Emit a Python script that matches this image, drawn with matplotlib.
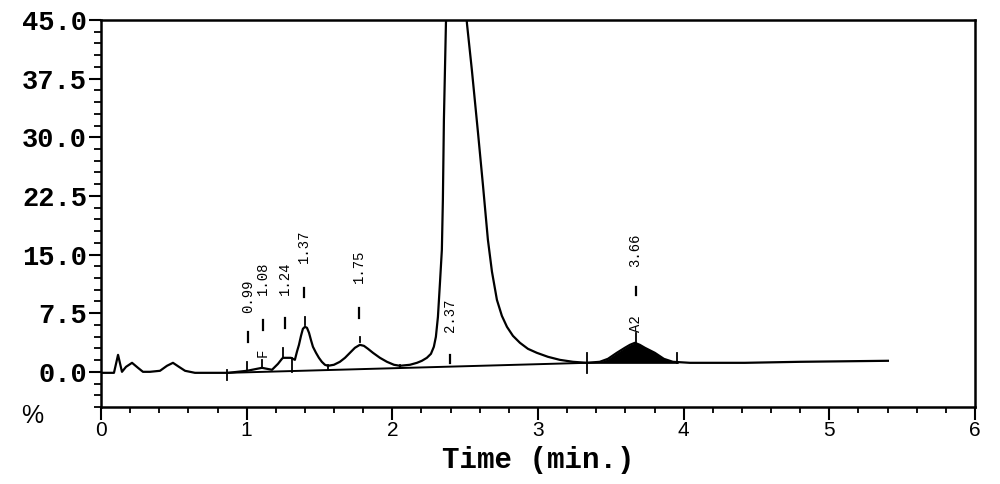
import matplotlib
matplotlib.use("Agg")
import matplotlib.pyplot as plt
import numpy as np

# ---------------- data ----------------
time_min = [0.000, 0.089, 0.117, 0.144, 0.172, 0.213, 0.254, 0.288, 0.336, 0.405,
            0.453, 0.494, 0.535, 0.577, 0.645, 0.872, 1.002, 1.105, 1.174, 1.215,
            1.242, 1.249, 1.304, 1.331, 1.345, 1.359, 1.373, 1.386, 1.400, 1.414,
            1.428, 1.441, 1.455, 1.476, 1.496, 1.516, 1.537, 1.558, 1.599, 1.640,
            1.675, 1.709, 1.743, 1.777, 1.805, 1.833, 1.867, 1.915, 1.963, 2.011,
            2.052, 2.121, 2.169, 2.203, 2.237, 2.265, 2.285, 2.299, 2.313, 2.327,
            2.340, 2.347, 2.354, 2.368, 2.400, 2.440, 2.480, 2.512, 2.546, 2.588,
            2.622, 2.656, 2.684, 2.718, 2.752, 2.787, 2.828, 2.876, 2.931, 2.992,
            3.068, 3.150, 3.240, 3.335, 3.424, 3.480, 3.541, 3.596, 3.631, 3.665,
            3.699, 3.734, 3.802, 3.864, 3.926, 4.043, 4.420, 4.798, 5.402]
signal_pct = [-0.13, -0.13, 2.17, 0.00, 0.64, 1.15, 0.51, 0.00, 0.00, 0.13,
              0.77, 1.15, 0.64, 0.13, -0.13, -0.13, 0.13, 0.51, 0.26, 1.02,
              1.66, 1.79, 1.79, 1.53, 2.56, 3.45, 4.60, 5.50, 5.75, 5.63,
              4.99, 4.09, 3.20, 2.43, 1.79, 1.28, 0.90, 0.77, 0.90, 1.28,
              1.79, 2.43, 3.07, 3.45, 3.32, 2.94, 2.43, 1.79, 1.28, 0.90,
              0.77, 0.90, 1.15, 1.41, 1.79, 2.30, 3.20, 4.48, 7.03, 11.38,
              15.60, 22.0, 32.2, 44.6, 58.0, 64.0, 55.0, 44.6, 38.6, 30.6,
              23.9, 16.9, 12.8, 9.2, 7.16, 5.75, 4.60, 3.71, 2.94, 2.43,
              1.92, 1.53, 1.28, 1.15, 1.28, 1.66, 2.43, 3.07, 3.45, 3.71,
              3.45, 3.07, 2.43, 1.66, 1.28, 1.15, 1.15, 1.28, 1.41]

# integration baseline drawn under the peaks
baseline_t = [0.872, 3.335, 3.960]
baseline_y = [-0.13, 1.15, 1.15]

# peak annotations
peak_labels = ["0.99", "1.08", "1.24", "1.37", "1.75", "2.37", "3.66"]
peak_names = {"1.08": "F", "3.66": "A2"}
area_start, area_end = 3.335, 3.960   # shaded A2 peak window

y_ticks = [0.0, 7.5, 15.0, 22.5, 30.0, 37.5, 45.0]
x_ticks = [0, 1, 2, 3, 4, 5, 6]

# ---------------- layout for annotations ----------------
label_x = [1.010, 1.110, 1.260, 1.395, 1.770, 2.395, 3.670]
label_text_bottom = [7.54, 9.85, 9.85, 13.9, 11.4, 5.1, 13.4]
label_dash = [(3.84, 5.12), (5.37, 6.65), (5.63, 6.91), (9.6, 10.7),
              (6.9, 8.2), (1.15, 2.17), (9.85, 10.9)]
name_bottom = {"1.08": 1.92, "3.66": 5.1}
# short integration marks (x, y0, y1)
marks = [(0.865, -1.0, 0.26), (1.002, 0.26, 1.28), (1.105, 0.64, 1.53),
         (1.249, 1.92, 3.07), (1.310, 0.0, 1.79), (1.400, 6.02, 7.03),
         (1.558, 0.26, 0.9), (1.777, 3.84, 4.48), (2.052, 0.5, 0.9),
         (3.335, -0.13, 2.43), (3.955, 1.15, 2.43), (3.670, 3.45, 4.99)]

# ---------------- figure ----------------
fig = plt.figure(figsize=(10, 4.84), dpi=100)
ax = fig.add_axes([0.101, 0.1591, 0.874, 0.7996])

t = np.array(time_min)
s = np.array(signal_pct)
ax.plot(t, s, color="black", lw=1.6, solid_joinstyle="round", clip_on=True)
ax.plot(baseline_t, baseline_y, color="black", lw=1.4)

mask = (t >= area_start) & (t <= area_end)
tt = np.concatenate([[area_start], t[mask], [area_end]])
ss = np.interp(tt, t, s)
bb = np.interp(tt, baseline_t, baseline_y)
ax.fill_between(tt, bb, ss, color="black", lw=0)

for (mx, y0, y1) in marks:
    ax.plot([mx, mx], [y0, y1], color="black", lw=1.3)

for lab, lx, lb, (d0, d1) in zip(peak_labels, label_x, label_text_bottom, label_dash):
    ax.text(lx, lb, lab, rotation=90, ha="center", va="bottom",
            family="Liberation Mono", fontsize=10, color="black")
    ax.plot([lx, lx], [d0, d1], color="black", lw=1.6)
    if lab in peak_names:
        ax.text(lx, name_bottom[lab], peak_names[lab], rotation=90, ha="center",
                va="bottom", family="Liberation Mono", fontsize=10, color="black")

ax.set_xlim(0, 6)
ax.set_ylim(-4.5, 45)
ax.set_yticks(y_ticks)
ax.set_yticklabels([f"{v:.1f}" for v in y_ticks], family="Liberation Mono",
                   fontweight="bold", fontsize=19.5)
ax.set_yticks(np.arange(-4.5, 45.01, 1.5), minor=True)
ax.set_xticks(x_ticks)
ax.set_xticklabels([str(v) for v in x_ticks], family="Liberation Sans", fontsize=15)
ax.set_xticks(np.arange(0, 6.01, 0.2), minor=True)

ax.tick_params(axis="y", which="major", direction="out", length=9, width=1.5, pad=1)
ax.tick_params(axis="y", which="minor", direction="out", length=5, width=1.3)
ax.tick_params(axis="x", which="major", direction="out", length=9, width=1.5, pad=1)
ax.tick_params(axis="x", which="minor", direction="out", length=4, width=1.3)

for sp in ax.spines.values():
    sp.set_linewidth(1.8)

ax.set_xlabel("Time (min.)", family="Liberation Mono", fontweight="bold", fontsize=21)
ax.xaxis.set_label_coords(0.5, -0.137)
ax.xaxis.label.set_va("center")

fig.text(0.032, 0.140, "%", family="Liberation Sans", fontsize=18,
         ha="center", va="center")

fig.savefig("out.png", dpi=100)
